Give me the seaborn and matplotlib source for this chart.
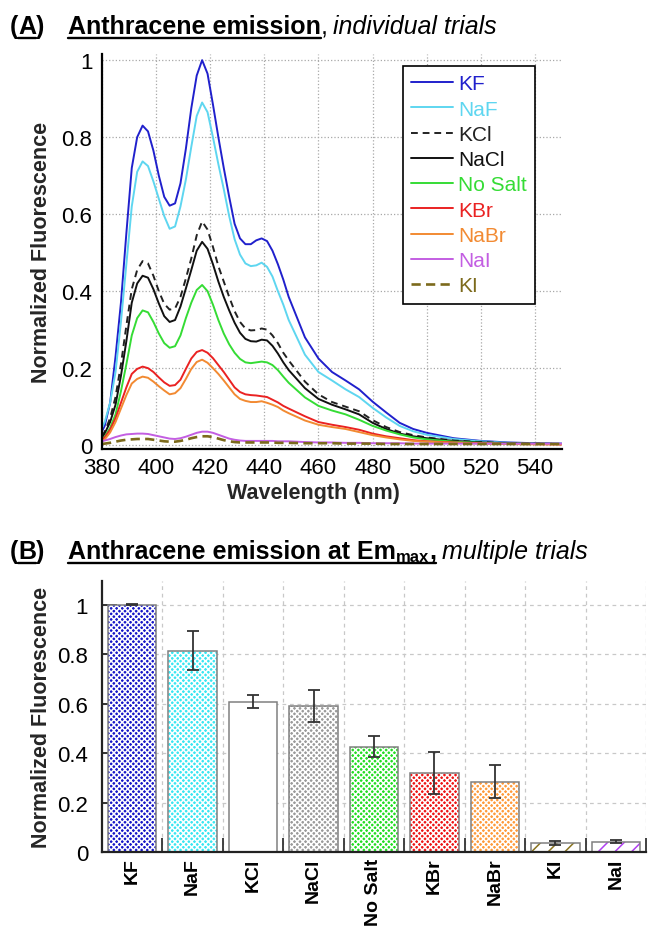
import numpy as np
import pandas as pd
import matplotlib
matplotlib.use("Agg")
import matplotlib.pyplot as plt
from matplotlib.lines import Line2D
from matplotlib.patches import Rectangle
import seaborn as sns

# ---------------- data ----------------
wavelength = [380, 381, 383, 385, 387, 389, 391, 393, 395, 397,
              399, 401, 403, 405, 407, 409, 411, 413, 415, 417,
              419, 421, 423, 425, 427, 429, 431, 433, 435, 437,
              439, 441, 443, 445, 447, 449, 455, 460, 465, 470,
              475, 480, 485, 490, 495, 500, 510, 520, 530, 540,
              550]

kf = [0.036, 0.05, 0.11, 0.23, 0.37, 0.55, 0.72, 0.80, 0.83, 0.815,
      0.765, 0.70, 0.645, 0.622, 0.628, 0.68, 0.77, 0.875, 0.96, 1.0,
      0.965, 0.885, 0.80, 0.72, 0.645, 0.575, 0.537, 0.522, 0.522, 0.532,
      0.537, 0.53, 0.505, 0.47, 0.43, 0.385, 0.28, 0.225, 0.19, 0.168,
      0.145, 0.113, 0.085, 0.058, 0.042, 0.032, 0.018, 0.011, 0.007, 0.005,
      0.004]
naf = [0.045, 0.06, 0.11, 0.19, 0.32, 0.47, 0.62, 0.71, 0.737, 0.725,
       0.685, 0.64, 0.595, 0.562, 0.568, 0.62, 0.69, 0.775, 0.855, 0.89,
       0.865, 0.80, 0.73, 0.665, 0.595, 0.535, 0.495, 0.472, 0.465, 0.467,
       0.474, 0.463, 0.438, 0.40, 0.365, 0.325, 0.235, 0.19, 0.168, 0.145,
       0.125, 0.097, 0.072, 0.05, 0.036, 0.027, 0.016, 0.01, 0.006, 0.005,
       0.004]
kcl = [0.023, 0.035, 0.07, 0.125, 0.21, 0.31, 0.405, 0.455, 0.478, 0.472,
       0.44, 0.40, 0.367, 0.352, 0.355, 0.385, 0.433, 0.485, 0.545, 0.581,
       0.56, 0.515, 0.465, 0.425, 0.385, 0.348, 0.32, 0.303, 0.298, 0.299,
       0.303, 0.30, 0.285, 0.265, 0.24, 0.22, 0.165, 0.132, 0.112, 0.10,
       0.088, 0.065, 0.047, 0.034, 0.026, 0.02, 0.012, 0.008, 0.005, 0.004,
       0.003]
nacl = [0.019, 0.03, 0.06, 0.105, 0.18, 0.27, 0.37, 0.42, 0.44, 0.435,
        0.405, 0.368, 0.335, 0.32, 0.325, 0.36, 0.407, 0.455, 0.505, 0.528,
        0.51, 0.47, 0.425, 0.385, 0.35, 0.318, 0.292, 0.276, 0.27, 0.269,
        0.274, 0.272, 0.258, 0.238, 0.215, 0.195, 0.148, 0.12, 0.105, 0.093,
        0.08, 0.058, 0.042, 0.03, 0.023, 0.018, 0.011, 0.007, 0.005, 0.004,
        0.003]
no_salt = [0.015, 0.022, 0.045, 0.08, 0.14, 0.21, 0.285, 0.33, 0.35, 0.345,
           0.32, 0.29, 0.265, 0.253, 0.257, 0.285, 0.33, 0.37, 0.403, 0.416,
           0.40, 0.365, 0.325, 0.29, 0.262, 0.24, 0.224, 0.215, 0.213, 0.215,
           0.217, 0.215, 0.208, 0.195, 0.178, 0.162, 0.124, 0.102, 0.09, 0.08,
           0.066, 0.05, 0.038, 0.028, 0.02, 0.015, 0.009, 0.006, 0.004, 0.003,
           0.003]
kbr = [0.015, 0.02, 0.04, 0.07, 0.11, 0.15, 0.185, 0.198, 0.204, 0.20,
       0.19, 0.176, 0.163, 0.154, 0.156, 0.17, 0.198, 0.225, 0.242, 0.247,
       0.24, 0.226, 0.208, 0.19, 0.17, 0.15, 0.138, 0.132, 0.13, 0.129,
       0.127, 0.125, 0.118, 0.111, 0.102, 0.095, 0.075, 0.06, 0.053, 0.047,
       0.04, 0.03, 0.023, 0.018, 0.013, 0.01, 0.007, 0.005, 0.003, 0.003,
       0.002]
nabr = [0.01, 0.015, 0.033, 0.06, 0.095, 0.13, 0.16, 0.172, 0.178, 0.175,
        0.165, 0.153, 0.142, 0.132, 0.135, 0.148, 0.172, 0.198, 0.216, 0.222,
        0.214, 0.20, 0.185, 0.168, 0.15, 0.132, 0.12, 0.115, 0.112, 0.112,
        0.114, 0.11, 0.105, 0.099, 0.09, 0.083, 0.064, 0.053, 0.047, 0.042,
        0.034, 0.026, 0.02, 0.015, 0.011, 0.009, 0.006, 0.004, 0.003, 0.002,
        0.002]
nai = [0.01, 0.012, 0.016, 0.021, 0.025, 0.028, 0.029, 0.03, 0.03, 0.029,
       0.026, 0.023, 0.02, 0.017, 0.016, 0.018, 0.022, 0.027, 0.032, 0.035,
       0.035, 0.032, 0.027, 0.022, 0.017, 0.014, 0.012, 0.011, 0.011, 0.011,
       0.011, 0.011, 0.011, 0.01, 0.01, 0.01, 0.008, 0.007, 0.007, 0.006,
       0.006, 0.005, 0.005, 0.005, 0.004, 0.004, 0.004, 0.004, 0.004, 0.004,
       0.004]
ki = [0.003, 0.004, 0.006, 0.009, 0.012, 0.014, 0.015, 0.016, 0.016, 0.016,
      0.014, 0.012, 0.01, 0.009, 0.009, 0.011, 0.014, 0.018, 0.021, 0.023,
      0.023, 0.021, 0.017, 0.013, 0.01, 0.008, 0.007, 0.007, 0.007, 0.007,
      0.007, 0.007, 0.007, 0.006, 0.006, 0.006, 0.005, 0.005, 0.005, 0.004,
      0.004, 0.004, 0.003, 0.003, 0.003, 0.003, 0.003, 0.003, 0.003, 0.003,
      0.003]

line_names = ["KF", "NaF", "KCl", "NaCl", "No Salt", "KBr", "NaBr", "NaI", "KI"]
line_values = [kf, naf, kcl, nacl, no_salt, kbr, nabr, nai, ki]

bar_names = ["KF", "NaF", "KCl", "NaCl", "No Salt", "KBr", "NaBr", "KI", "NaI"]
bar_means = [1.0, 0.815, 0.609, 0.59, 0.426, 0.319, 0.284, 0.036, 0.041]
bar_errs = [0.002, 0.079, 0.026, 0.065, 0.043, 0.086, 0.067, 0.008, 0.006]

# ---------------- styles ----------------
line_colors = {"KF": "#2020cc", "NaF": "#5ed6f0", "KCl": "#222222", "NaCl": "#111111",
               "No Salt": "#35dc35", "KBr": "#ea2222", "NaBr": "#f28a32",
               "NaI": "#c35ee2", "KI": "#7c6a1c"}
line_dash = {"KCl": (0, (3.5, 2.5)), "KI": (0, (3.5, 2))}
line_width = {"KI": 1.9}
bar_face = {"KF": "#1616c8", "NaF": "#38e6f2", "KCl": "white", "NaCl": "#9a9a9a",
            "No Salt": "#22dd22", "KBr": "#ee1515", "NaBr": "#ff9a3a",
            "KI": "white", "NaI": "white"}
bar_hatch_color = {"KI": "#8a7420", "NaI": "#b040f0"}

sns.set_theme(style="white")
plt.rcParams["font.family"] = ["Liberation Sans", "DejaVu Sans"]
plt.rcParams["hatch.linewidth"] = 1.1

W, H = 648, 929
fig = plt.figure(figsize=(W / 100, H / 100), dpi=100)


def fx(px):
    return px / W


def fy(py):
    return 1 - py / H


# ---------------- panel A ----------------
axA = fig.add_axes([fx(102), fy(450), fx(562) - fx(102), fy(55) - fy(450)])
df = pd.DataFrame({
    "wl": np.tile(wavelength, len(line_names)),
    "val": np.concatenate(line_values),
    "salt": np.repeat(line_names, len(wavelength)),
})
for name in line_names:
    sub = df[df["salt"] == name]
    sns.lineplot(data=sub, x="wl", y="val", ax=axA, color=line_colors[name],
                 linewidth=line_width.get(name, 1.4),
                 linestyle=line_dash.get(name, "-"),
                 label=name, estimator=None, sort=False)

axA.set_xlim(380, 550)
axA.set_ylim(-0.01, 1.016)
axA.set_xticks([380, 400, 420, 440, 460, 480, 500, 520, 540])
axA.set_yticks([0, 0.2, 0.4, 0.6, 0.8, 1.0])
axA.set_yticklabels(["0", "0.2", "0.4", "0.6", "0.8", "1"])
axA.grid(True, linestyle=":", color="#a8a8a8", linewidth=0.9)
for s in ["top", "right"]:
    axA.spines[s].set_visible(False)
for s in ["left", "bottom"]:
    axA.spines[s].set_color("black")
    axA.spines[s].set_linewidth(1.6)
axA.tick_params(axis="both", length=0, labelsize=16, colors="black")
axA.tick_params(axis="x", pad=6)
axA.tick_params(axis="y", pad=7)
axA.set_xlabel("Wavelength (nm)", fontsize=15.5, fontweight="bold")
axA.set_ylabel("Normalized Fluorescence", fontsize=15.5, fontweight="bold")
axA.xaxis.set_label_coords(0.46, -0.083)
axA.yaxis.set_label_coords(-0.109, 0.5)

leg = axA.legend(loc="upper left", bbox_to_anchor=(fx(403), fy(67)),
                 bbox_transform=fig.transFigure, fontsize=15, frameon=True,
                 fancybox=False, framealpha=1, edgecolor="black",
                 handlelength=2.0, handletextpad=0.25, labelspacing=0.3,
                 borderpad=0.4, borderaxespad=0)
leg.get_frame().set_linewidth(1.2)
for txt, name in zip(leg.get_texts(), line_names):
    txt.set_color(line_colors[name])

# ---------------- panel B ----------------
axB = fig.add_axes([fx(102), fy(853), fx(646) - fx(102), fy(582) - fy(853)])
dfb = pd.DataFrame({"salt": bar_names, "mean": bar_means, "err": bar_errs})
sns.barplot(data=dfb, x="salt", y="mean", hue="salt", order=bar_names,
            palette=bar_face, ax=axB, errorbar=None, width=0.8, legend=False,
            saturation=1)

for p, name in zip(axB.patches, bar_names):
    face = bar_face[name]
    if name in bar_hatch_color:
        p.set_facecolor("white")
        p.set_edgecolor(bar_hatch_color[name])
        p.set_hatch("//")
    elif name == "KCl":
        p.set_facecolor("white")
        p.set_edgecolor("white")
    else:
        p.set_facecolor(face)
        p.set_edgecolor("white")
        p.set_hatch("xxxxxx")
    p.set_linewidth(0)
    axB.add_patch(Rectangle((p.get_x(), p.get_y()), p.get_width(), p.get_height(),
                            facecolor="none", edgecolor="#808080", linewidth=1.1,
                            zorder=p.get_zorder() + 0.1))

centers = [p.get_x() + p.get_width() / 2 for p in axB.patches[:len(bar_names)]]
axB.errorbar(centers, dfb["mean"], yerr=dfb["err"], fmt="none", ecolor="#333333",
             elinewidth=1.3, capsize=4.5, capthick=1.3, zorder=5)

axB.set_xlim(-0.5, len(bar_names) - 0.5)
axB.set_ylim(0, 1.097)
axB.set_yticks([0, 0.2, 0.4, 0.6, 0.8, 1.0])
axB.set_yticklabels(["0", "0.2", "0.4", "0.6", "0.8", "1"])
axB.set_xticks(range(len(bar_names)))
axB.set_xticklabels(bar_names, rotation=90, fontweight="bold", fontsize=14)
axB.set_xticks(np.arange(0.5, len(bar_names), 1.0), minor=True)
axB.set_axisbelow(True)
axB.grid(True, which="major", axis="y", linestyle=(0, (3, 3)), color="#c8c8c8", linewidth=0.9)
axB.grid(True, which="minor", axis="x", linestyle=(0, (3, 3)), color="#c8c8c8", linewidth=0.9)
axB.grid(False, which="major", axis="x")
for s in ["top", "right"]:
    axB.spines[s].set_visible(False)
for s in ["left", "bottom"]:
    axB.spines[s].set_color("#222222")
    axB.spines[s].set_linewidth(1.6)
axB.tick_params(axis="x", which="major", length=0, pad=4, colors="black")
axB.tick_params(axis="x", which="minor", direction="in", length=10, width=1.3,
                color="#333333", bottom=True)
axB.tick_params(axis="y", which="major", direction="in", length=11, width=1.4,
                color="#333333", labelsize=16, pad=10, left=True, labelcolor="black")
axB.set_xlabel("")
axB.set_ylabel("Normalized Fluorescence", fontsize=15.5, fontweight="bold")
axB.yaxis.set_label_coords(-0.091, 0.5)

# ---------------- titles ----------------
renderer = fig.canvas.get_renderer()


def rich(pieces, base_px, size=18):
    """pieces: (text, x_start_px or None, options). Returns extents of the pieces."""
    x = 0
    spans = []
    for text, x0, kw in pieces:
        x = x0 if x0 is not None else x + kw.get("gap", 0)
        dy = kw.get("dy", 0)
        t = fig.text(fx(x), fy(base_px + dy), text, ha="left", va="baseline",
                     fontsize=kw.get("size", size), fontweight=kw.get("weight", "normal"),
                     fontstyle=kw.get("style", "normal"), color="black")
        bb = t.get_window_extent(renderer)
        spans.append((bb.x0, bb.x1))
        x = bb.x1
    return spans


def underline(x0, x1, y_px):
    fig.add_artist(Line2D([x0 / W, x1 / W], [fy(y_px), fy(y_px)],
                          transform=fig.transFigure, color="black", linewidth=1.7))


sa = rich([("(", 10, {"weight": "bold"}),
           ("A", None, {"weight": "bold"}),
           (")", None, {"weight": "bold"}),
           ("Anthracene emission", 68, {"weight": "bold"}),
           (",", None, {}),
           ("individual trials", None, {"style": "italic", "gap": 5})], 34)
underline(sa[1][0], sa[1][1], 38.5)
underline(sa[3][0], sa[3][1], 38.5)

sb = rich([("(", 10, {"weight": "bold"}),
           ("B", None, {"weight": "bold"}),
           (")", None, {"weight": "bold"}),
           ("Anthracene emission at Em", 68, {"weight": "bold"}),
           ("max", None, {"weight": "bold", "size": 12, "dy": 3}),
           (",", None, {"weight": "bold"}),
           ("multiple trials", None, {"style": "italic", "gap": 6})], 559)
underline(sb[1][0], sb[1][1], 563.5)
underline(sb[3][0], sb[5][1], 563.5)

fig.savefig("out.png", dpi=100)
